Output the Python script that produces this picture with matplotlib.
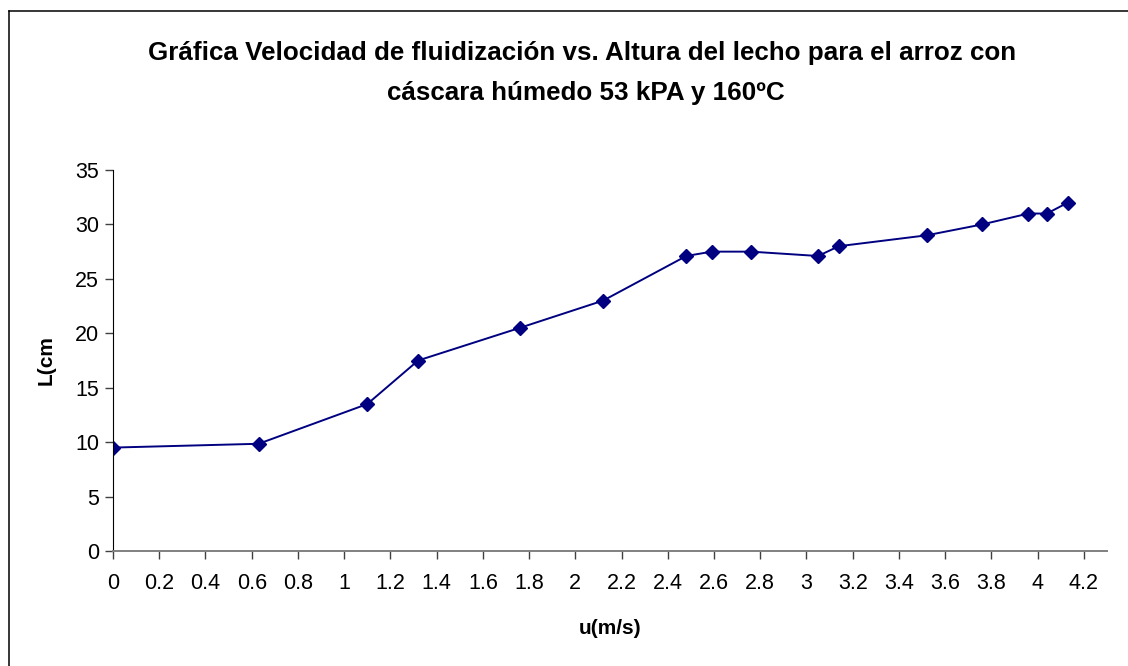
import matplotlib
matplotlib.use('Agg')
import matplotlib.pyplot as plt
from matplotlib.lines import Line2D

# velocidad de fluidizacion (m/s) y altura del lecho (cm)
u_vals = [0.0, 0.63, 1.10, 1.32, 1.76, 2.12, 2.48, 2.59, 2.76, 3.05, 3.14,
          3.52, 3.76, 3.96, 4.04, 4.13]
L_vals = [9.5, 9.85, 13.5, 17.5, 20.5, 23.0, 27.1, 27.5, 27.5, 27.1, 28.0,
          29.0, 30.0, 31.0, 31.0, 32.0]

x_ticks = [0, 0.2, 0.4, 0.6, 0.8, 1, 1.2, 1.4, 1.6, 1.8, 2, 2.2, 2.4, 2.6,
           2.8, 3, 3.2, 3.4, 3.6, 3.8, 4, 4.2]
y_ticks = [0, 5, 10, 15, 20, 25, 30, 35]

title1 = 'Gráfica Velocidad de fluidización vs. Altura del lecho para el arroz con'
title2 = 'cáscara húmedo 53 kPA y 160ºC'

plt.rcParams['font.family'] = ['Liberation Sans', 'DejaVu Sans']

fig = plt.figure(figsize=(11.28, 6.66), dpi=100)
ax = fig.add_axes([113/1128, 1 - 551/666, (1107 - 113)/1128, (551 - 170)/666])

ax.plot(u_vals, L_vals, color='#000080', linewidth=1.4, marker='D',
        markersize=7.5, markerfacecolor='#000080', markeredgecolor='#000080')

ax.set_xlim(0, 4.3)
ax.set_ylim(0, 35)
ax.set_xticks(x_ticks)
ax.set_xticklabels(['%g' % t for t in x_ticks])
ax.set_yticks(y_ticks)

ax.spines['top'].set_visible(False)
ax.spines['right'].set_visible(False)
ax.spines['left'].set_color('black')
ax.spines['bottom'].set_color('#808080')
ax.spines['bottom'].set_linewidth(1.4)
ax.tick_params(axis='x', direction='out', length=5.5, width=1, color='#404040',
               labelsize=15.5, pad=10)
ax.tick_params(axis='y', direction='out', length=6, width=1, color='#404040',
               labelsize=15.5, pad=4)

ax.set_xlabel('u(m/s)', fontsize=15, fontweight='bold', labelpad=18)
ax.set_ylabel('L(cm', fontsize=15, fontweight='bold', labelpad=14)

fig.text(582/1128, 1 - 53/666, title1, ha='center', va='center',
         fontsize=18.7, fontweight='bold')
fig.text(586/1128, 1 - 93/666, title2, ha='center', va='center',
         fontsize=18.7, fontweight='bold')

# borde del area del grafico (solo izquierda y arriba visibles)
fig.add_artist(Line2D([9/1128, 9/1128], [0, 1 - 11/666], color='black', linewidth=1.1,
                      transform=fig.transFigure))
fig.add_artist(Line2D([9/1128, 1], [1 - 11/666, 1 - 11/666], color='black',
                      linewidth=1.1, transform=fig.transFigure))

plt.savefig('out.png', dpi=100)
